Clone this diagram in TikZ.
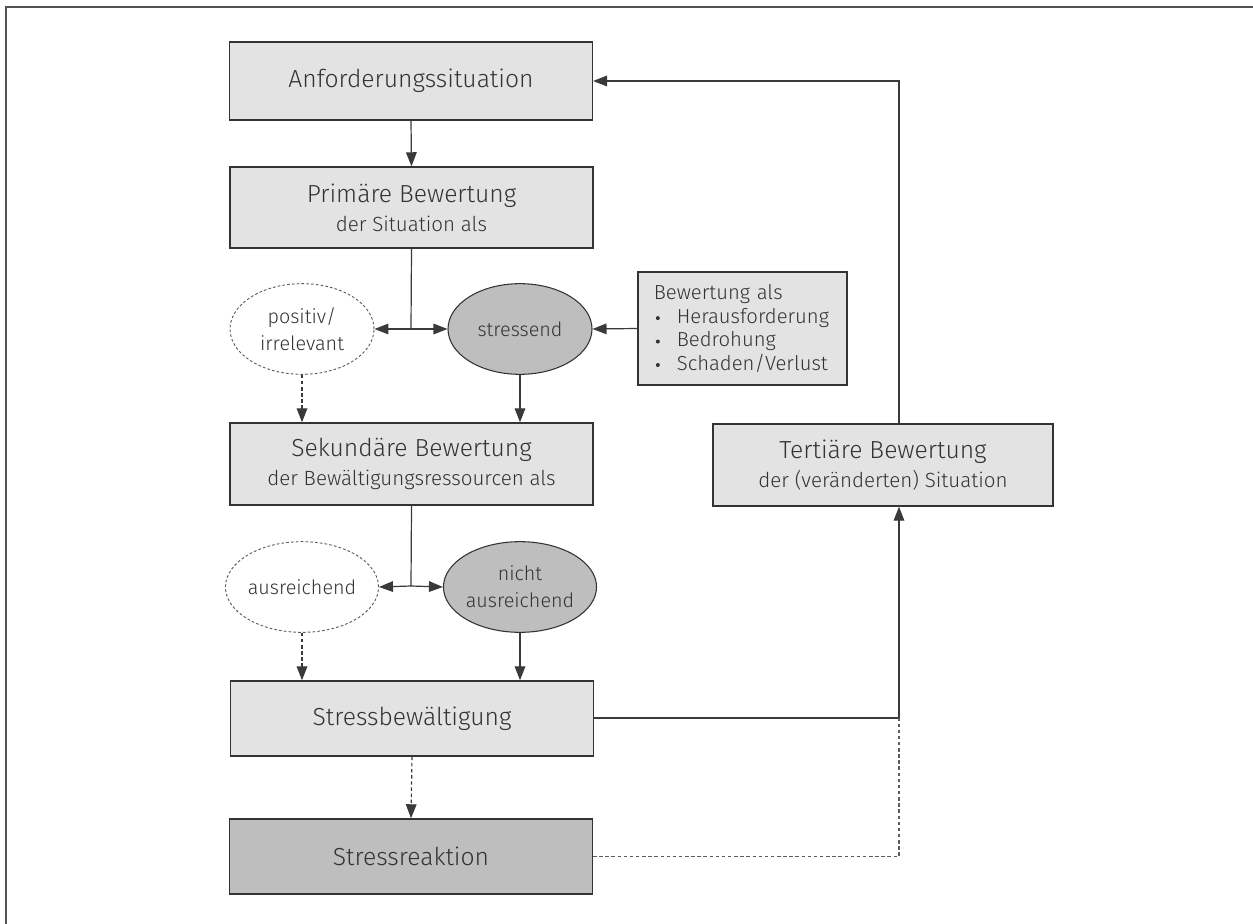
\documentclass[tikz,border=0pt]{standalone}
\usepackage{fontspec}
\setmainfont{Fira Sans Light}
\usetikzlibrary{shapes.geometric,arrows.meta}
\definecolor{boxfill}{HTML}{E3E3E3}
\definecolor{darkfill}{HTML}{BEBEBE}
\definecolor{ink}{HTML}{333333}
\definecolor{linegray}{HTML}{3A3A3A}
\newcommand{\titlefont}{\fontsize{18.5}{22}\selectfont}
\newcommand{\subfont}{\fontsize{15.4}{18.5}\selectfont}
\newcommand{\smallfont}{\fontsize{15.2}{17.6}\selectfont}
\newcommand{\ovalfont}{\fontsize{14.8}{20}\selectfont}
\newcommand{\bul}{\makebox[17.25pt][l]{\hspace{1.5pt}\tikz[baseline=0pt]\fill[ink] (0pt,3.9pt) circle (1.5pt);}}
\tikzset{
  box/.style={draw=ink, line width=1.1pt, fill=boxfill, text=ink, align=center, inner sep=0pt, minimum width=272pt, font=\subfont},
  darkbox/.style={box, fill=darkfill},
  oval/.style={ellipse, draw=ink, line width=0.8pt, fill=darkfill, text=ink, align=center, inner sep=0pt, minimum width=108pt, minimum height=68pt, font=\ovalfont},
  dashoval/.style={ellipse, draw=ink!80, line width=0.7pt, dash pattern=on 2pt off 1.6pt, fill=white, text=ink, align=center, inner sep=0pt, minimum width=108pt, minimum height=68pt, font=\ovalfont},
  conn/.style={draw=linegray, line width=0.9pt},
  arr/.style={conn, -{Triangle[length=10.5pt,width=8pt]}},
  darr/.style={arr, dash pattern=on 2.6pt off 2pt},
  dline/.style={conn, draw=ink!80, dash pattern=on 2.6pt off 2pt}
}
\begin{document}
\begin{tikzpicture}[x=0.75pt,y=-0.75pt]
\useasboundingbox (0,0) rectangle (1253,924);
% frame
\draw[draw=ink!85, line width=1.5pt] (6,930) -- (6,7) -- (1260,7);

% boxes
\node[box, minimum height=58.5pt, font=\titlefont] (anf) at (411,81) {Anforderungssituation};
\node[box, minimum height=60.75pt] (prim) at (411.5,207.5) {{\titlefont Primäre Bewertung}\\[3pt]der Situation als};
\node[box, minimum height=61.5pt] (sek) at (411.5,464) {{\titlefont Sekundäre Bewertung}\\[3pt]der Bewältigungsressourcen als};
\node[box, minimum height=56.25pt, font=\titlefont] (bew) at (412,718.5) {Stressbewältigung};
\node[darkbox, minimum height=56.25pt, font=\titlefont] (reak) at (411,856.5) {Stressreaktion};
\node[box, minimum height=61.5pt, minimum width=255pt] (tert) at (883,465) {{\titlefont Tertiäre Bewertung}\\[3pt]der (veränderten) Situation};
\node[box, minimum height=84.75pt, minimum width=156.75pt, align=left, text width=133pt, font=\smallfont] (bulbox) at (742.5,328.5) {Bewertung als\\
\bul Herausforderung\\
\bul Bedrohung\\
\bul Schaden/Verlust};

% ellipses
\node[dashoval] (pos) at (302,329) {positiv/\\irrelevant};
\node[oval] (str) at (520,329) {stressend};
\node[dashoval] (aus) at (302,587) {ausreichend};
\node[oval] (nicht) at (520,587) {nicht\\ausreichend};

% junctions
\coordinate (j1) at (411,329);
\coordinate (j2) at (411,586);
\coordinate (j3) at (899,718);
\coordinate (topc) at (899,81);

% connectors
\draw[arr] (anf.south) -- (prim.north);
\draw[conn] (prim.south) -- (j1);
\draw[arr] (j1) -- (pos.east);
\draw[arr] (j1) -- (str.west);
\draw[arr] (bulbox.west) -- (str.east);
\draw[darr] (pos.south) -- (pos.south |- sek.north);
\draw[arr] (str.south) -- (str.south |- sek.north);
\draw[conn] (sek.south) -- (j2);
\draw[arr] (j2) -- (aus.east);
\draw[arr] (j2) -- (nicht.west);
\draw[darr] (aus.south) -- (aus.south |- bew.north);
\draw[arr] (nicht.south) -- (nicht.south |- bew.north);
\draw[conn] (bew.east |- j3) -- (j3);
\draw[arr] (j3) -- (j3 |- tert.south);
\draw[darr] (bew.south) -- (reak.north);
\draw[dline] (reak.east) -- (reak.east -| j3) -- (j3);
\draw[arr] (topc |- tert.north) -- (topc) -- (anf.east);
\end{tikzpicture}
\end{document}
